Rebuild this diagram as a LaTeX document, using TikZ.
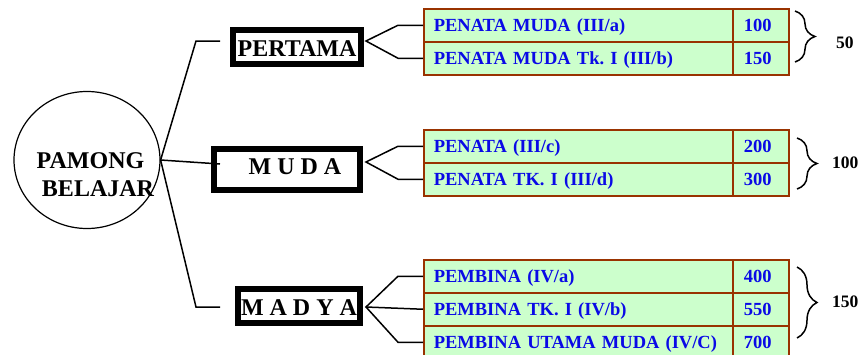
\documentclass[tikz,border=0pt]{standalone}
\usepackage{fontspec}
\setmainfont{Liberation Serif}
\usetikzlibrary{shapes.geometric,decorations.pathreplacing}
\definecolor{cellborder}{HTML}{993300}
\definecolor{cellfill}{HTML}{CCFFCC}
\definecolor{celltext}{HTML}{0A0AE6}
\frenchspacing
\begin{document}
\begin{tikzpicture}[x=1pt,y=-1pt,
 rankbox/.style={draw, line width=6pt, inner sep=0pt, font=\fontsize{24}{28}\selectfont\bfseries, text height=18pt, text depth=0pt},
 namecell/.style={draw=cellborder, fill=cellfill, line width=1.5pt, anchor=north west, minimum width=309pt, minimum height=33pt, text width=289pt, inner xsep=10pt, inner ysep=0pt, align=left, text=celltext, font=\fontsize{18.5}{20}\selectfont\bfseries, text height=12.25pt, text depth=0pt},
 valcell/.style={namecell, minimum width=56pt, text width=34pt, inner xsep=11pt},
 conn/.style={line width=1.5pt},
 grp/.style={decorate, decoration={brace, amplitude=20pt}, line width=1.5pt},
 total/.style={anchor=west, inner sep=0pt, font=\fontsize{17.5}{20}\selectfont\bfseries, text height=11.8pt, text depth=0pt},
 circtext/.style={anchor=base, inner sep=0pt, font=\fontsize{24}{28}\selectfont\bfseries}]
\useasboundingbox (0,0) rectangle (863,354);
\clip (0,0) rectangle (863,354);

% central circle
\node[draw, ellipse, line width=1.2pt, minimum width=146pt, minimum height=137pt, inner sep=0pt] (pamong) at (87,160) {};
\node[circtext] (t1) at (90.5,168) {PAMONG};
\node[circtext] (t2) at (98,196) {BELAJAR};

% rank boxes
\node[rankbox, minimum width=128pt, minimum height=34pt] (pertama) at (297,47) {PERTAMA};
\node[rankbox, minimum width=146pt, minimum height=41pt, text depth=9pt] (muda) at (287,169.5) {\hspace*{16pt}M U D A};
\node[rankbox, minimum width=122pt, minimum height=34pt] (madya) at (299,306) {M A D Y A};

% tables
\node[namecell] (r1a) at (423,8) {PENATA MUDA (III/a)};
\node[valcell] (v1a) at (732,8) {100};
\node[namecell] (r1b) at (423,41) {PENATA MUDA Tk. I (III/b)};
\node[valcell] (v1b) at (732,41) {150};

\node[namecell] (r2a) at (423,129) {PENATA (III/c)};
\node[valcell] (v2a) at (732,129) {200};
\node[namecell] (r2b) at (423,162) {PENATA TK. I (III/d)};
\node[valcell] (v2b) at (732,162) {300};

\node[namecell] (r3a) at (423,259) {PEMBINA (IV/a)};
\node[valcell] (v3a) at (732,259) {400};
\node[namecell] (r3b) at (423,292) {PEMBINA TK. I (IV/b)};
\node[valcell] (v3b) at (732,292) {550};
\node[namecell] (r3c) at (423,325) {PEMBINA UTAMA MUDA (IV/C)};
\node[valcell] (v3c) at (732,325) {700};

% connectors from circle
\coordinate (hubA) at (196,41); \coordinate (endA) at (220,41);
\coordinate (endB) at (220,164);
\coordinate (hubC) at (196,307); \coordinate (endC) at (220,307);
\draw[conn] (pamong.east) -- (hubA) -- (endA);
\draw[conn] (pamong.east) -- (endB);
\draw[conn] (pamong.east) -- (hubC) -- (endC);

% connectors to tables
\coordinate (kx) at (398,0);
\coordinate (fanA) at (366,41);
\coordinate (fanB) at (366,162);
\coordinate (fanC) at (366,307);
\draw[conn] (r1a.west) -- (r1a.west -| kx) -- (fanA) -- (r1b.west -| kx) -- (r1b.west);
\draw[conn] (r2a.west) -- (r2a.west -| kx) -- (fanB) -- (r2b.west -| kx) -- (r2b.west);
\draw[conn] (r3a.west) -- (r3a.west -| kx) -- (fanC) -- (r3c.west -| kx) -- (r3c.west);
\draw[conn] (fanC) -- (r3b.west);

% braces and totals
\draw[grp] (795,11) -- (795,62);
\draw[grp] (797,138) -- (797,189);
\draw[grp] (797,267) -- (797,338);
\node[total] (s1) at (836,43) {50};
\node[total] (s2) at (832,163) {100};
\node[total] (s3) at (832,302) {150};
\end{tikzpicture}
\end{document}
